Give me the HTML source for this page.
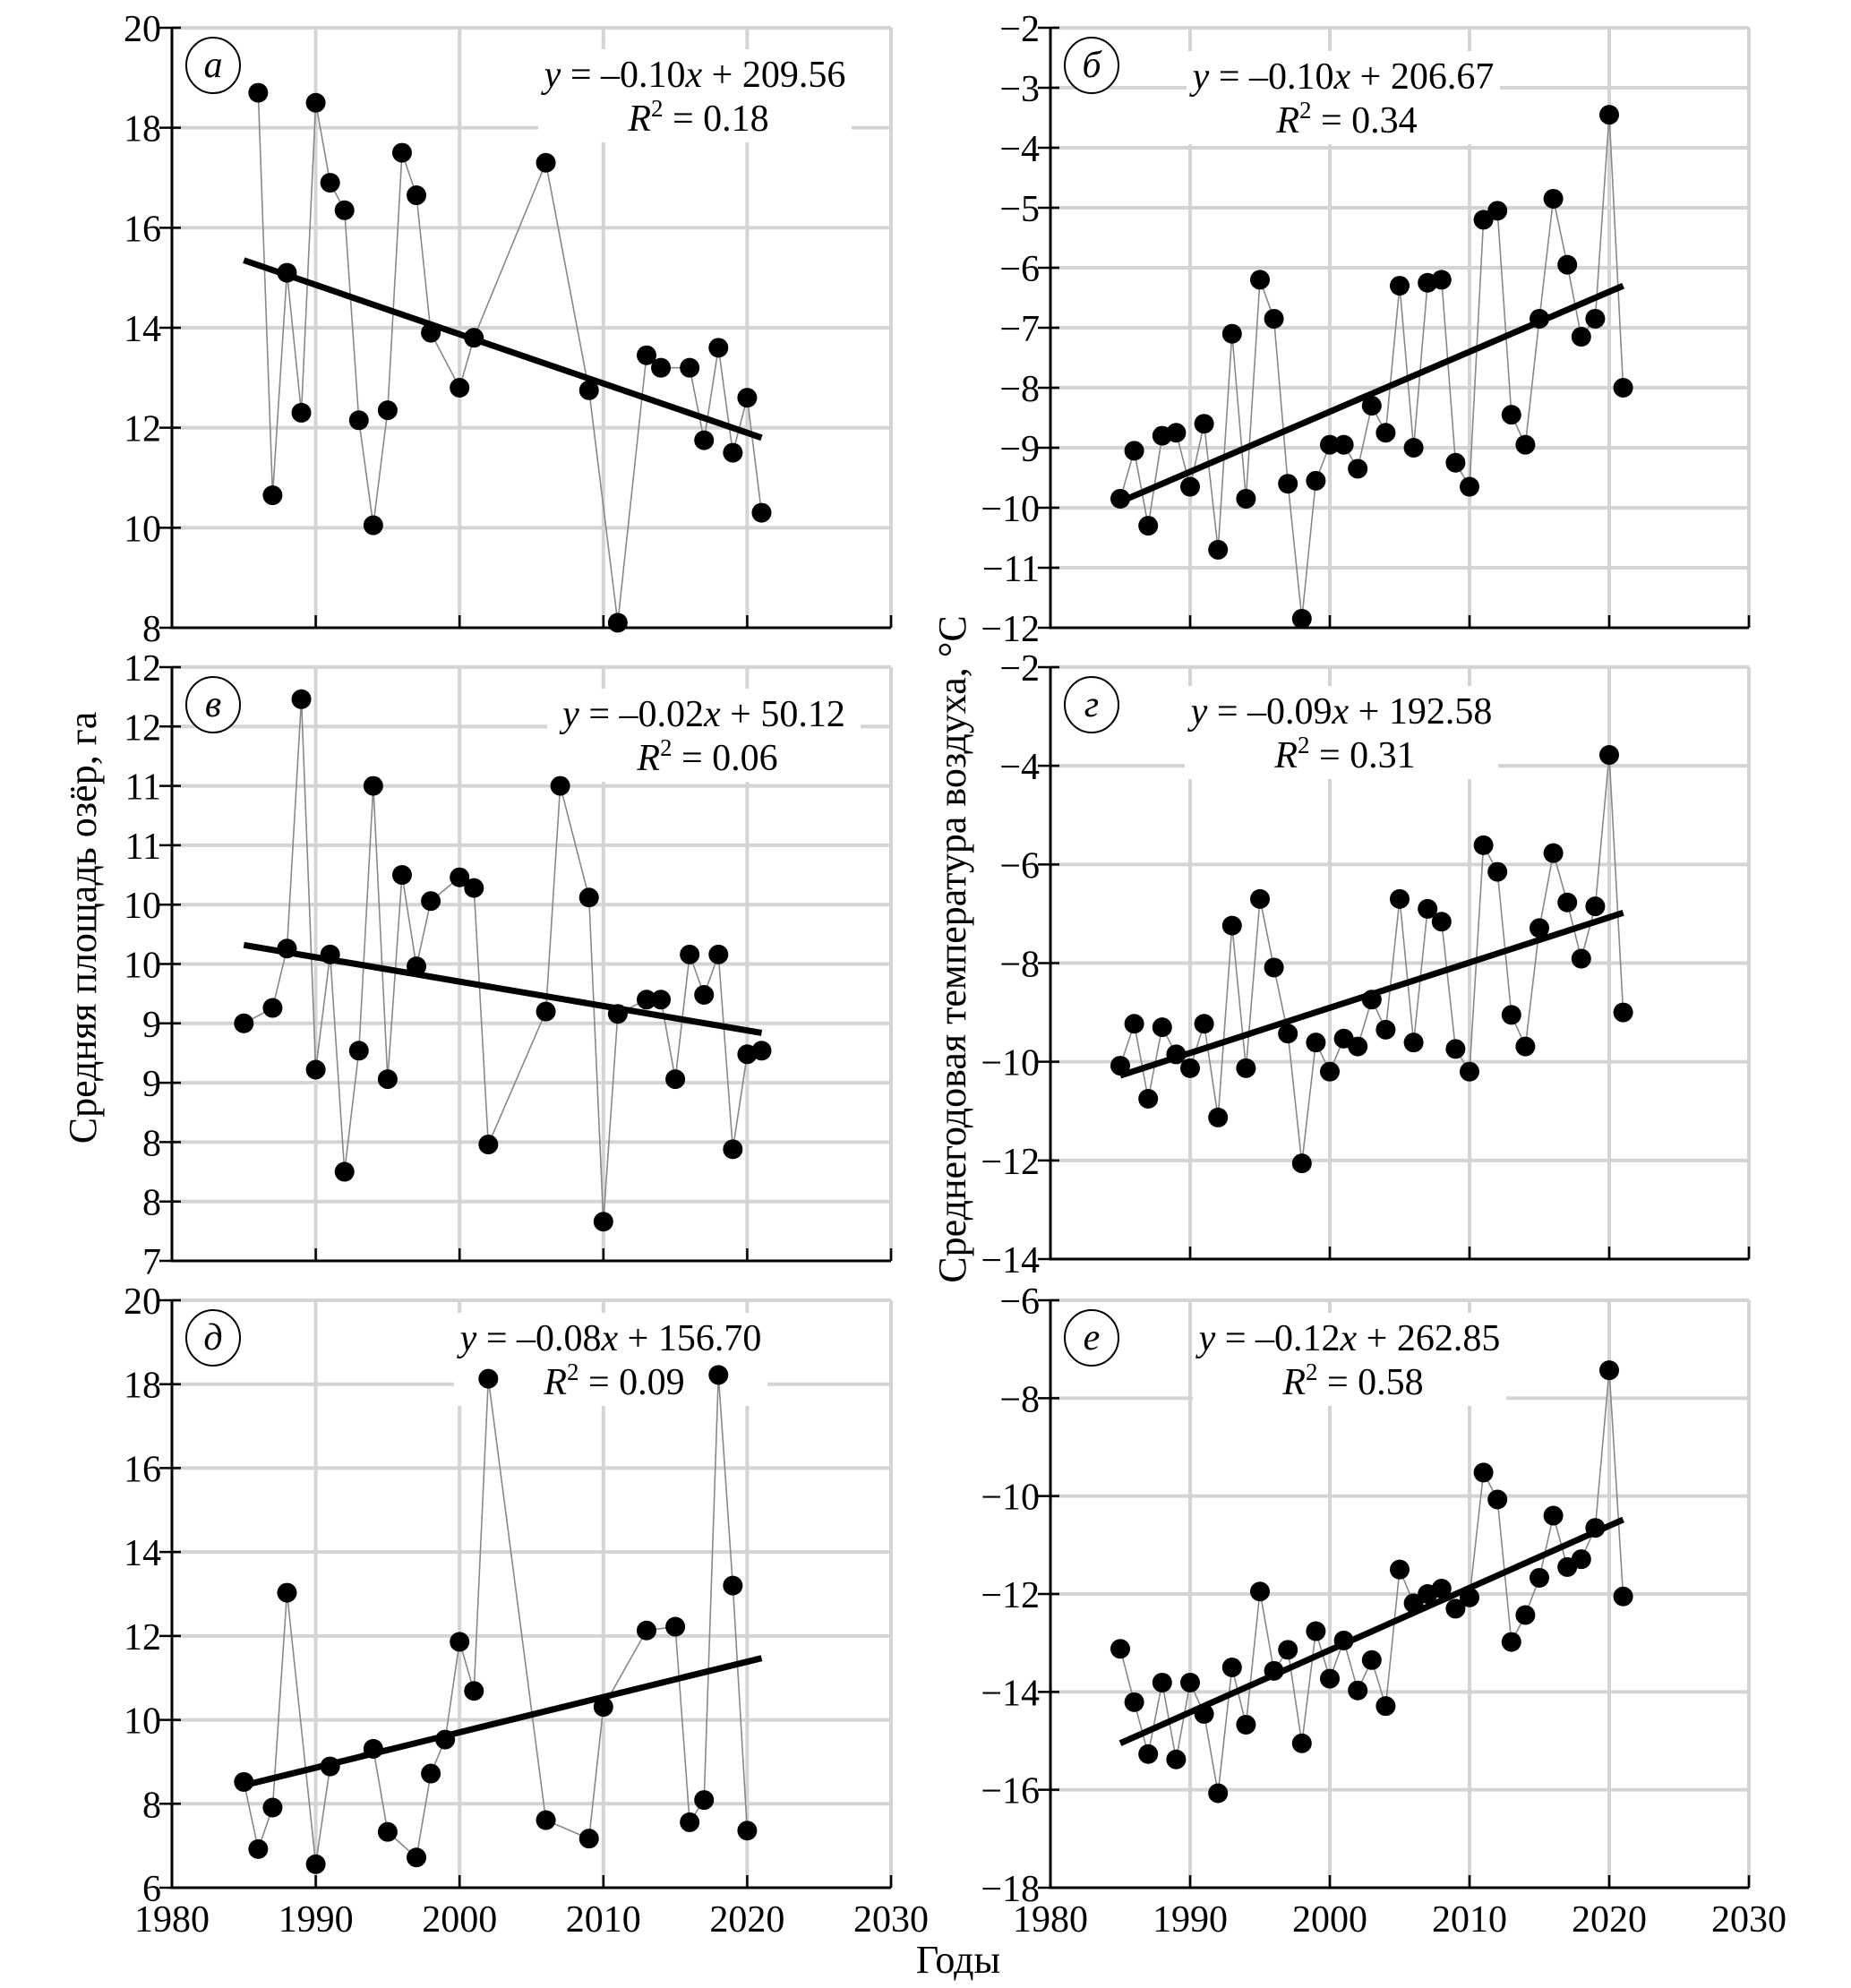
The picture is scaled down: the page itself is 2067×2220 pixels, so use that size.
<!DOCTYPE html>
<html><head><meta charset="utf-8">
<style>
html,body{margin:0;padding:0;background:#fff;}
svg{display:block;}
text{font-family:"Liberation Serif","Times New Roman",serif;fill:#000;}
</style></head>
<body>
<svg id="fig" width="2067" height="2220" viewBox="0 0 2067 2220" xmlns="http://www.w3.org/2000/svg">
<rect x="0" y="0" width="2067" height="2220" fill="#fff"/>
<text x="0" y="0" font-size="44" text-anchor="middle" transform="translate(107,1036) rotate(-90)">Средняя площадь озёр, га</text>
<text x="0" y="0" font-size="44" text-anchor="middle" transform="translate(1078,1060) rotate(-90)">Среднегодовая температура воздуха, °С</text>
<text x="1070" y="2203" font-size="44" text-anchor="middle">Годы</text>
</svg>
<script>
// ---- Panel a (lake area) ----
const aYears = [1986,1987,1988,1989,1990,1991,1992,1993,1994,1995,1996,1997,1998,2000,2001,2006,2009,2011,2013,2014,2016,2017,2018,2019,2020,2021];
const aValues = [18.7,10.65,15.1,12.3,18.5,16.9,16.35,12.15,10.05,12.35,17.5,16.65,13.9,12.8,13.8,17.3,12.75,8.1,13.45,13.2,13.2,11.75,13.6,11.5,12.6,10.3];
const aTrend = [15.35,11.8];
const aTicks = [8,10,12,14,16,18,20];
const aTickLabels = ["8","10","12","14","16","18","20"];
// ---- Panel b (temperature) ----
const bYears = [1985,1986,1987,1988,1989,1990,1991,1992,1993,1994,1995,1996,1997,1998,1999,2000,2001,2002,2003,2004,2005,2006,2007,2008,2009,2010,2011,2012,2013,2014,2015,2016,2017,2018,2019,2020,2021];
const bValues = [-9.85,-9.05,-10.3,-8.8,-8.75,-9.65,-8.6,-10.7,-7.1,-9.85,-6.2,-6.85,-9.6,-11.85,-9.55,-8.95,-8.95,-9.35,-8.3,-8.75,-6.3,-9.0,-6.25,-6.2,-9.25,-9.65,-5.2,-5.05,-8.45,-8.95,-6.85,-4.85,-5.95,-7.15,-6.85,-3.45,-8.0];
const bTrend = [-9.9,-6.3];
const bTicks = [-12,-11,-10,-9,-8,-7,-6,-5,-4,-3,-2];
const bTickLabels = ["−12","−11","−10","−9","−8","−7","−6","−5","−4","−3","−2"];
// ---- Panel v ----
const vYears = [1985,1987,1988,1989,1990,1991,1992,1993,1994,1995,1996,1997,1998,2000,2001,2002,2006,2007,2009,2010,2011,2013,2014,2015,2016,2017,2018,2019,2020,2021];
const vValues = [9.0,9.13,9.63,11.73,8.61,9.58,7.75,8.77,11.0,8.53,10.25,9.48,10.03,10.23,10.14,7.98,9.1,11.0,10.06,7.33,9.08,9.2,9.2,8.53,9.58,9.24,9.58,7.94,8.74,8.77];
const vTrend = [9.66,8.92];
const vTicks = [7,7.5,8,8.5,9,9.5,10,10.5,11,11.5,12];
const vTickLabels = ["7","8","8","9","9","10","10","11","11","12","12"];
// ---- Panel g ----
const gYears = bYears;
const gValues = [-10.08,-9.23,-10.75,-9.3,-9.85,-10.13,-9.23,-11.13,-7.24,-10.13,-6.7,-8.09,-9.43,-12.06,-9.61,-10.2,-9.53,-9.69,-8.74,-9.35,-6.7,-9.61,-6.9,-7.16,-9.74,-10.2,-5.61,-6.15,-9.05,-9.69,-7.29,-5.77,-6.77,-7.91,-6.85,-3.78,-9.0];
const gTrend = [-10.28,-6.98];
const gTicks = [-14,-12,-10,-8,-6,-4,-2];
const gTickLabels = ["−14","−12","−10","−8","−6","−4","−2"];
// ---- Panel d ----
const dYears = [1985,1986,1987,1988,1990,1991,1994,1995,1997,1998,1999,2000,2001,2002,2006,2009,2010,2013,2015,2016,2017,2018,2019,2020];
const dValues = [8.52,6.92,7.91,13.03,6.56,8.89,9.31,7.33,6.72,8.72,9.53,11.86,10.69,18.13,7.61,7.17,10.31,12.13,12.22,7.56,8.09,18.22,13.2,7.36];
const dTrend = [8.44,11.47];
const dTicks = [6,8,10,12,14,16,18,20];
const dTickLabels = ["6","8","10","12","14","16","18","20"];
// ---- Panel e ----
const eYears = bYears;
const eValues = [-13.12,-14.21,-15.27,-13.81,-15.38,-13.81,-14.45,-16.07,-13.5,-14.67,-11.95,-13.57,-13.14,-15.05,-12.76,-13.73,-12.95,-13.97,-13.35,-14.29,-11.5,-12.19,-12.0,-11.89,-12.3,-12.07,-9.52,-10.07,-12.98,-12.43,-11.67,-10.4,-11.45,-11.29,-10.65,-7.43,-12.05];
const eTrend = [-15.05,-10.48];
const eTicks = [-18,-16,-14,-12,-10,-8,-6];
const eTickLabels = ["−18","−16","−14","−12","−10","−8","−6"];

const trendYears = [1985,2021];
const xTicks = [1980,1990,2000,2010,2020,2030];
const xTickLabels = ["1980","1990","2000","2010","2020","2030"];

const NS = "http://www.w3.org/2000/svg";
const svg = document.getElementById('fig');
function mk(tag, attrs, parent){const e=document.createElementNS(NS,tag);for(const k in attrs)e.setAttribute(k,attrs[k]);(parent||svg).appendChild(e);return e;}

function panel(id, box, years, values, trend, ticks, tickLabels, letter, eq, r2, eqPos, showX){
  const g = mk('g',{});
  
  
  const ymin = ticks[0], ymax = ticks[ticks.length-1];
  const sx = v => box.x0 + (v-1980)/(2030-1980)*(box.x1-box.x0);
  const sy = v => box.y1 - (v-ymin)/(ymax-ymin)*(box.y1-box.y0);
  ticks.forEach((t,i)=>{
    if(i===0) return;
    const l = mk('line',{x1:box.x0,x2:box.x1,y1:sy(t),y2:sy(t),stroke:'#d4d4d4','stroke-width':4},g);
    
    
  });
  xTicks.forEach((t,i)=>{
    if(i===0) return;
    const l = mk('line',{x1:sx(t),x2:sx(t),y1:box.y0,y2:box.y1,stroke:'#d4d4d4','stroke-width':4},g);
    
    
  });
  const bg = mk('rect',{x:eqPos[0]-175,y:eqPos[1]-42,width:350,height:104,fill:'#fff'},g);
  
  
  const t1 = mk('text',{x:eqPos[0],y:eqPos[1],'font-size':42,'text-anchor':'middle'},g);
  
  
  t1.innerHTML = '<tspan font-style="italic">y</tspan> = –'+eq[0]+'<tspan font-style="italic">x</tspan> + '+eq[1];
  const t2 = mk('text',{x:eqPos[0]+4,y:eqPos[1]+49,'font-size':42,'text-anchor':'middle'},g);
  
  
  t2.innerHTML = '<tspan font-style="italic">R</tspan><tspan font-size="27" dy="-16">2</tspan><tspan dy="16"> = '+r2+'</tspan>';
  const ax = mk('path',{d:`M${box.x0},${box.y0} L${box.x0},${box.y1} L${box.x1},${box.y1}`,fill:'none',stroke:'#000','stroke-width':3},g);
  
  
  ticks.forEach((t,i)=>{
    const tk = mk('line',{x1:box.x0-14,x2:box.x0+10,y1:sy(t),y2:sy(t),stroke:'#000','stroke-width':2.5},g);
    
    
    const lb = mk('text',{x:box.x0-12,y:sy(t)+15,'font-size':42,'text-anchor':'end'},g);
    
    
    lb.textContent = tickLabels[i];
  });
  xTicks.forEach((t,i)=>{
    const tk = mk('line',{x1:sx(t),x2:sx(t),y1:box.y1,y2:box.y1-14,stroke:'#000','stroke-width':2.5},g);
    
    
    if(showX){
      const lb = mk('text',{x:sx(t),y:box.y1+49,'font-size':42,'text-anchor':'middle'},g);
      
      
      lb.textContent = xTickLabels[i];
    }
  });
  const cx = box.x0+46, cy = box.y0+42;
  const c = mk('ellipse',{cx:cx,cy:cy,rx:30,ry:31,fill:'#fff',stroke:'#000','stroke-width':2},g);
  
  
  const lt = mk('text',{x:cx,y:cy+13,'font-size':42,'font-style':'italic','text-anchor':'middle'},g);
  
  
  lt.textContent = letter;
  const pts = years.map((y,i)=>sx(y)+','+sy(values[i])).join(' ');
  const pl = mk('polyline',{points:pts,fill:'none',stroke:'#888','stroke-width':1.6},g);
  
  
  const tr = mk('line',{x1:sx(trendYears[0]),y1:sy(trend[0]),x2:sx(trendYears[1]),y2:sy(trend[1]),stroke:'#000','stroke-width':7},g);
  
  
  years.forEach((y,i)=>{
    const m = mk('circle',{cx:sx(y),cy:sy(values[i]),r:11,fill:'#000'},g);
    
    
  });
}
const L = {x0:192,x1:995}, R = {x0:1173,x1:1953};
panel('a',{x0:L.x0,x1:L.x1,y0:31,y1:701},aYears,aValues,aTrend,aTicks,aTickLabels,'a',['0.10','209.56'],'0.18',[776,97],false);
panel('b',{x0:R.x0,x1:R.x1,y0:31,y1:701},bYears,bValues,bTrend,bTicks,bTickLabels,'б',['0.10','206.67'],'0.34',[1500,99],false);
panel('v',{x0:L.x0,x1:L.x1,y0:745,y1:1408},vYears,vValues,vTrend,vTicks,vTickLabels,'в',['0.02','50.12'],'0.06',[786,811],false);
panel('g',{x0:R.x0,x1:R.x1,y0:745,y1:1406},gYears,gValues,gTrend,gTicks,gTickLabels,'г',['0.09','192.58'],'0.31',[1498,808],false);
panel('d',{x0:L.x0,x1:L.x1,y0:1452,y1:2108},dYears,dValues,dTrend,dTicks,dTickLabels,'д',['0.08','156.70'],'0.09',[682,1508],true);
panel('e',{x0:R.x0,x1:R.x1,y0:1452,y1:2108},eYears,eValues,eTrend,eTicks,eTickLabels,'е',['0.12','262.85'],'0.58',[1507,1508],true);
</script>
</body></html>
